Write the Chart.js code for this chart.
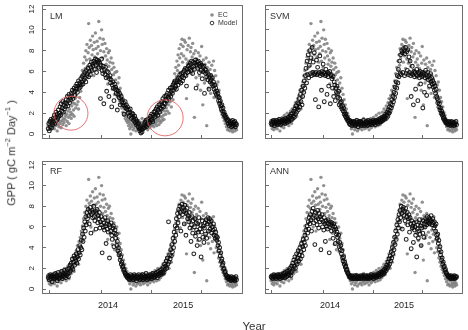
<!DOCTYPE html>
<html>
<head>
<meta charset="utf-8">
<title>GPP: EC vs models</title>
<script src="https://cdn.jsdelivr.net/npm/chart.js"></script>
<style>
  body { margin: 0; width: 468px; height: 330px; overflow: hidden; background: #fff;
         font-family: "Liberation Sans", Arial, sans-serif; color: #333; }
  .panel { position: absolute; }
  #ytitle { position: absolute; left: 10px; top: 153px; transform: translate(-50%, -50%) rotate(-90deg);
            white-space: nowrap; font-size: 11px; }
  #ytitle sup { font-size: 7.5px; }
  #xtitle { position: absolute; left: 254px; top: 320px; transform: translateX(-50%); font-size: 11.5px; }
</style>
</head>
<body>
<div class="panel" style="left:0;top:0;width:250px;height:150px"><canvas id="lm"></canvas></div>
<div class="panel" style="left:250px;top:0;width:218px;height:150px"><canvas id="svm"></canvas></div>
<div class="panel" style="left:0;top:150px;width:250px;height:180px"><canvas id="rf"></canvas></div>
<div class="panel" style="left:250px;top:150px;width:218px;height:180px"><canvas id="ann"></canvas></div>
<div id="ytitle">GPP ( gC m<sup>−2</sup> Day<sup>−1</sup> )</div>
<div id="xtitle">Year</div>

<script>
// one value every 2 days; day 0 = left edge of the plot (early June 2013)
const START_DAY = 22;
const STEP_DAYS = 2;

// observed (eddy covariance) GPP, same in all panels
const ecGpp = [
  0.8, 1.1, 0.5, 1.3, 0.7, 0.4, 1.0, 1.4, 0.6, 0.9,
  1.2, 0.5, 1.0, 0.8, 1.5, 1.1, 0.3, 0.9, 1.3, 0.7,
  1.6, 1.0, 1.2, 0.6, 1.8, 1.3, 0.9, 1.5, 1.1, 2.0,
  1.4, 1.7, 0.8, 1.9, 1.2, 2.2, 1.6, 1.0, 2.4, 1.8,
  2.1, 1.5, 2.7, 1.9, 3.0, 2.3, 1.7, 2.9, 3.4, 2.5,
  3.7, 2.8, 4.2, 3.1, 2.4, 4.6, 3.5, 5.0, 4.1, 5.6,
  4.7, 6.1, 5.3, 6.8, 5.8, 7.4, 6.3, 8.0, 7.1, 8.6,
  6.5, 7.8, 10.6, 8.3, 7.2, 9.0, 6.0, 8.5, 7.6, 9.4,
  8.1, 5.6, 8.8, 7.4, 9.7, 8.2, 6.9, 8.9, 7.7, 8.4,
  10.8, 7.0, 9.2, 8.0, 6.4, 10.0, 8.6, 7.3, 9.1, 7.9,
  5.9, 8.7, 7.5, 6.7, 8.2, 7.1, 4.8, 7.8, 6.5, 8.0,
  6.9, 5.4, 7.3, 6.2, 4.3, 6.8, 5.7, 6.4, 3.8, 5.9,
  5.2, 4.5, 6.0, 3.6, 4.9, 4.1, 5.4, 3.2, 4.4, 2.9,
  3.8, 2.5, 3.3, 2.1, 2.8, 1.8, 2.4, 1.5, 2.0, 1.3,
  1.7, 1.1, 1.4, 0.8, 1.2, 0.5, 1.0, 0.0, 0.7, 1.3,
  0.9, 0.4, 1.1, 0.6, 1.4, 0.8, 0.3, 1.0, 1.2, 0.5,
  0.9, 1.3, 0.6, 1.0, 0.4, 1.1, 0.7, 1.5, 0.8, 0.5,
  1.2, 0.9, 0.6, 1.4, 1.0, 0.7, 1.3, 0.4, 1.1, 0.8,
  1.5, 0.6, 1.0, 1.2, 0.8, 1.6, 0.9, 1.3, 0.7, 1.1,
  1.8, 1.0, 1.4, 0.8, 1.2, 2.0, 1.5, 0.9, 1.3, 1.7,
  1.1, 2.1, 1.6, 1.3, 2.4, 1.8, 1.4, 2.2, 2.7, 1.9,
  2.5, 3.0, 2.2, 3.4, 2.8, 2.0, 3.7, 3.1, 4.2, 2.6,
  3.9, 4.6, 3.3, 5.1, 4.4, 5.8, 4.9, 6.4, 5.5, 7.0,
  6.1, 7.6, 6.6, 8.2, 7.3, 5.9, 8.6, 7.7, 9.1, 6.9,
  8.4, 7.5, 9.0, 6.3, 8.8, 7.2, 3.4, 8.1, 6.8, 8.5,
  7.0, 9.2, 6.5, 7.9, 8.3, 5.8, 7.4, 8.7, 6.1, 7.7,
  1.6, 6.9, 8.0, 5.4, 7.2, 6.6, 4.7, 7.8, 6.3, 5.6,
  7.5, 4.2, 6.8, 8.4, 5.9, 2.8, 7.1, 6.0, 4.9, 6.7,
  5.2, 7.3, 0.8, 6.4, 5.5, 4.4, 6.9, 5.0, 6.2, 3.9,
  5.7, 6.6, 4.6, 5.3, 7.0, 3.5, 6.1, 4.8, 5.6, 4.0,
  4.7, 3.6, 5.0, 3.0, 4.2, 2.6, 3.5, 2.2, 3.1, 1.9,
  2.6, 1.6, 2.1, 1.3, 1.8, 1.0, 1.4, 0.7, 1.1, 0.4,
  0.9, 0.5, 1.2, 0.3, 0.8, 1.0, 0.4, 0.6, 0.2, 0.9,
  0.5, 0.7, 0.3, 1.0, 0.6, 0.4
];

const lmGpp = [
  0.5, 1.0, 0.3, 1.2, 0.7, 1.4, 0.6, 1.1, 0.9, 1.5,
  1.2, 1.8, 1.0, 1.6, 2.1, 1.3, 1.9, 1.5, 2.3, 1.7,
  2.0, 2.6, 1.8, 2.9, 2.2, 2.5, 3.1, 2.1, 2.8, 2.4,
  3.0, 2.6, 3.3, 2.9, 3.6, 2.7, 3.2, 3.8, 3.0, 3.5,
  3.3, 3.9, 3.6, 4.2, 3.4, 4.0, 4.4, 3.7, 4.1, 4.6,
  4.3, 4.8, 4.0, 4.6, 5.1, 4.4, 4.9, 4.5, 5.3, 4.7,
  5.0, 5.5, 4.8, 5.7, 5.2, 5.9, 5.4, 5.0, 6.1, 5.6,
  5.8, 6.3, 5.5, 6.0, 6.6, 5.7, 6.4, 6.9, 6.1, 6.7,
  6.5, 7.0, 6.2, 6.8, 7.2, 6.6, 5.9, 7.1, 6.9, 6.4,
  7.0, 6.3, 6.8, 3.4, 6.6, 7.2, 6.1, 5.8, 6.5, 2.9,
  6.2, 5.7, 6.4, 5.4, 4.1, 6.0, 5.5, 5.9, 3.6, 5.3,
  5.6, 4.9, 5.2, 2.6, 4.7, 5.0, 4.4, 3.2, 4.8, 4.3,
  4.5, 3.9, 4.2, 2.3, 3.8, 4.1, 3.5, 3.9, 2.8, 3.4,
  3.6, 3.1, 3.3, 2.8, 3.0, 1.9, 2.7, 3.1, 2.5, 2.8,
  2.4, 2.6, 2.0, 2.3, 1.7, 2.1, 2.4, 1.8, 1.5, 2.0,
  1.6, 1.9, 1.3, 1.5, 1.7, 1.1, 1.4, 0.9, 1.2, 1.0,
  0.7, 1.0, 0.5, 0.3, 0.6, 0.1, 0.4, 0.2, 0.7, 0.5,
  0.9, 0.6, 1.1, 0.8, 1.3, 0.7, 1.0, 1.4, 0.9, 1.2,
  1.5, 1.1, 1.7, 1.3, 1.9, 1.4, 1.2, 1.8, 2.1, 1.6,
  2.2, 1.7, 2.4, 2.0, 2.6, 1.8, 2.3, 2.8, 2.1, 2.5,
  2.9, 2.4, 3.1, 2.7, 3.4, 2.6, 3.0, 3.6, 2.9, 3.3,
  3.7, 3.2, 3.9, 3.5, 4.2, 3.4, 3.8, 4.4, 3.6, 4.1,
  4.5, 3.9, 4.7, 4.2, 4.9, 4.4, 5.1, 4.6, 4.3, 5.0,
  5.2, 4.7, 5.4, 5.0, 5.7, 5.3, 4.9, 5.8, 5.5, 5.1,
  5.9, 5.4, 6.1, 5.7, 6.3, 5.6, 4.6, 6.2, 5.9, 6.5,
  6.0, 6.6, 6.3, 6.8, 6.1, 7.0, 6.4, 5.8, 6.9, 6.5,
  6.2, 6.8, 7.1, 4.4, 6.6, 6.9, 6.3, 7.0, 6.7, 5.9,
  6.5, 6.8, 6.1, 6.6, 5.3, 6.4, 6.0, 6.5, 3.9, 6.2,
  5.8, 6.1, 5.5, 5.9, 5.2, 5.7, 4.3, 5.4, 5.0, 5.6,
  5.2, 4.8, 5.4, 4.6, 5.0, 4.3, 4.7, 4.0, 4.4, 3.8,
  4.1, 3.6, 3.9, 3.2, 3.5, 2.9, 3.2, 2.7, 2.4, 2.8,
  2.2, 2.5, 1.9, 2.1, 1.7, 1.8, 1.5, 1.6, 1.3, 1.4,
  1.0, 1.3, 0.8, 1.1, 0.9, 1.2, 0.7, 1.0, 1.3, 0.8,
  1.1, 0.9, 1.2, 0.7, 1.0, 0.9
];

const svmGpp = [
  1.0, 1.2, 0.9, 1.1, 1.3, 1.0, 0.8, 1.2, 1.1, 1.0,
  1.3, 0.9, 1.1, 1.2, 1.0, 1.4, 1.1, 0.9, 1.2, 1.3,
  1.0, 1.2, 1.4, 1.1, 1.3, 1.0, 1.5, 1.2, 1.4, 1.1,
  1.3, 1.6, 1.2, 1.5, 1.7, 1.3, 1.9, 1.5, 1.4, 2.0,
  1.7, 2.2, 1.6, 2.4, 1.9, 2.7, 2.1, 2.5, 3.0, 2.3,
  2.9, 3.4, 2.6, 3.8, 3.1, 4.2, 2.8, 3.6, 4.6, 4.0,
  5.1, 4.4, 5.6, 6.3, 4.9, 7.0, 5.7, 7.6, 5.4, 6.6,
  8.0, 5.8, 7.3, 5.6, 8.3, 5.9, 6.9, 5.7, 7.8, 5.8,
  3.3, 5.9, 7.1, 5.7, 6.4, 5.8, 2.6, 5.9, 7.5, 5.6,
  5.8, 4.2, 6.0, 5.7, 6.7, 5.9, 3.1, 5.8, 5.6, 6.2,
  5.7, 3.8, 5.9, 5.5, 4.6, 5.8, 6.0, 2.9, 5.6, 5.7,
  5.3, 4.4, 5.5, 3.6, 5.0, 4.7, 3.2, 4.4, 4.0, 4.6,
  3.9, 3.5, 4.1, 2.8, 3.4, 3.0, 2.6, 3.1, 2.4, 2.7,
  2.2, 2.5, 1.9, 2.1, 1.7, 1.9, 1.5, 1.6, 1.3, 1.4,
  1.2, 1.0, 1.3, 0.9, 1.1, 1.2, 0.8, 1.0, 1.1, 0.9,
  1.2, 1.0, 0.8, 1.1, 0.9, 1.3, 1.0, 0.7, 1.1, 1.2,
  0.9, 1.0, 1.2, 0.8, 1.1, 0.9, 1.0, 1.3, 0.8, 1.0,
  1.1, 0.9, 1.2, 1.0, 0.8, 1.1, 1.3, 0.9, 1.0, 1.2,
  1.0, 1.2, 0.9, 1.1, 1.3, 1.0, 1.2, 1.1, 0.9, 1.3,
  1.1, 1.3, 1.2, 1.0, 1.4, 1.2, 1.1, 1.5, 1.3, 1.2,
  1.4, 1.6, 1.3, 1.5, 1.7, 1.4, 1.6, 1.9, 1.5, 1.8,
  2.1, 1.7, 2.3, 2.0, 2.6, 2.2, 2.9, 2.5, 3.3, 2.8,
  3.6, 3.1, 4.0, 3.5, 4.5, 3.9, 5.0, 4.4, 5.6, 4.9,
  6.2, 5.5, 7.0, 5.8, 7.6, 5.7, 8.0, 7.8, 5.9, 8.2,
  8.0, 5.6, 7.7, 8.3, 5.8, 7.9, 6.1, 8.1, 5.7, 7.4,
  5.9, 7.0, 5.6, 3.6, 5.8, 6.5, 5.7, 2.8, 6.0, 5.5,
  5.9, 4.3, 5.7, 6.2, 5.6, 3.2, 5.9, 5.8, 5.4, 6.0,
  4.8, 5.7, 5.5, 5.9, 2.5, 5.6, 5.8, 4.0, 5.4, 6.1,
  5.7, 3.7, 5.5, 5.9, 5.2, 5.6, 4.6, 5.3, 5.8, 5.0,
  5.4, 4.8, 5.1, 4.5, 4.9, 4.2, 4.6, 3.9, 4.3, 3.6,
  3.4, 3.0, 3.2, 2.6, 2.9, 2.3, 2.5, 2.0, 2.2, 1.8,
  1.9, 1.5, 1.6, 1.3, 1.4, 1.1, 1.2, 1.0, 1.1, 0.9,
  1.0, 1.2, 0.9, 1.1, 0.8, 1.0, 1.2, 0.9, 1.1, 1.0,
  0.8, 1.1, 0.9, 1.0, 1.2, 0.9
];

const rfGpp = [
  1.1, 1.3, 0.9, 1.2, 1.4, 1.0, 1.3, 0.7, 1.2, 1.1,
  1.4, 1.0, 1.2, 1.5, 1.1, 1.3, 0.8, 1.2, 1.6, 1.0,
  1.3, 1.1, 1.4, 1.2, 1.7, 1.0, 1.3, 1.5, 1.2, 1.8,
  1.4, 1.1, 1.6, 1.3, 1.9, 1.5, 1.2, 2.0, 1.6, 2.3,
  1.8, 2.5, 2.1, 2.9, 1.9, 2.6, 3.2, 2.3, 3.0, 2.7,
  3.4, 2.5, 3.1, 3.8, 2.9, 3.5, 4.2, 3.3, 4.0, 4.7,
  3.8, 5.3, 4.6, 5.9, 5.0, 6.5, 5.6, 7.0, 6.2, 7.4,
  6.8, 7.7, 7.1, 6.3, 7.5, 7.9, 5.4, 7.2, 7.6, 6.9,
  7.4, 8.0, 7.0, 6.6, 7.5, 5.8, 7.3, 7.7, 6.4, 7.1,
  6.8, 7.4, 5.9, 6.5, 7.0, 6.2, 3.5, 6.7, 6.0, 6.4,
  5.7, 6.9, 6.1, 4.4, 6.3, 5.8, 6.6, 5.5, 6.2, 3.0,
  6.0, 5.6, 6.4, 5.2, 4.8, 5.9, 6.1, 4.1, 5.4, 5.7,
  4.9, 5.3, 4.2, 4.6, 3.7, 4.0, 3.3, 3.5, 2.8, 3.1,
  2.4, 2.6, 2.1, 2.2, 1.8, 1.9, 1.6, 1.5, 1.3, 1.4,
  1.2, 1.1, 1.3, 1.0, 1.2, 0.9, 1.4, 1.1, 1.0, 1.3,
  1.1, 0.9, 1.2, 1.4, 1.0, 1.2, 1.1, 0.8, 1.3, 1.0,
  1.2, 1.4, 1.1, 0.9, 1.3, 1.0, 1.2, 1.1, 1.4, 0.9,
  1.1, 1.3, 1.0, 1.2, 1.5, 1.1, 0.9, 1.3, 1.2, 1.0,
  1.3, 1.1, 1.4, 1.2, 1.0, 1.3, 1.5, 1.2, 1.1, 1.4,
  1.2, 1.5, 1.3, 1.6, 1.1, 1.4, 1.7, 1.3, 1.5, 1.8,
  1.4, 1.6, 1.9, 1.5, 1.7, 2.1, 1.6, 2.4, 1.9, 2.2,
  2.7, 2.0, 3.0, 2.4, 6.5, 2.6, 3.3, 2.9, 3.8, 3.2,
  4.3, 3.6, 4.9, 4.0, 5.5, 4.6, 6.1, 5.2, 6.8, 5.9,
  7.3, 6.4, 7.7, 7.0, 8.0, 7.4, 5.6, 7.8, 8.2, 7.2,
  7.9, 7.5, 6.3, 8.1, 7.6, 5.2, 7.3, 7.8, 6.8, 7.1,
  6.5, 7.4, 5.9, 6.9, 4.6, 6.2, 7.0, 5.4, 6.6, 3.4,
  6.0, 6.8, 5.1, 6.4, 5.7, 4.2, 6.3, 5.5, 6.9, 4.8,
  5.8, 6.2, 3.1, 5.5, 6.6, 5.0, 6.1, 4.5, 5.9, 6.4,
  5.3, 6.7, 4.9, 6.3, 6.9, 5.6, 6.5, 6.8, 5.8, 6.2,
  6.6, 5.4, 6.0, 5.7, 6.3, 5.2, 5.8, 4.9, 5.5, 5.1,
  4.7, 5.0, 4.2, 4.5, 3.7, 4.0, 3.2, 3.5, 2.7, 2.9,
  2.3, 2.5, 1.9, 2.0, 1.6, 1.7, 1.4, 1.3, 1.1, 1.2,
  1.0, 1.2, 0.9, 1.1, 1.0, 0.8, 1.2, 0.9, 1.1, 1.0,
  0.9, 1.1, 0.8, 1.0, 1.2, 0.9
];

const annGpp = [
  1.2, 1.1, 1.3, 1.0, 1.2, 1.4, 1.1, 1.3, 1.2, 1.0,
  1.3, 1.2, 1.4, 1.1, 1.3, 1.2, 1.0, 1.4, 1.2, 1.3,
  1.1, 1.4, 1.2, 1.5, 1.3, 1.1, 1.6, 1.4, 1.2, 1.7,
  1.5, 1.3, 1.8, 1.4, 2.0, 1.6, 1.3, 2.2, 1.7, 2.5,
  1.9, 2.8, 2.2, 3.1, 2.0, 2.6, 3.4, 2.4, 3.0, 3.7,
  2.7, 3.3, 4.0, 2.9, 3.6, 4.4, 3.2, 4.1, 4.8, 3.8,
  4.5, 5.2, 4.2, 5.7, 4.9, 6.1, 5.4, 6.5, 5.8, 6.9,
  6.3, 7.2, 6.7, 5.6, 7.5, 6.9, 7.8, 6.4, 7.1, 4.3,
  7.4, 6.6, 7.0, 6.2, 7.6, 6.8, 5.9, 7.3, 6.5, 7.0,
  3.8, 6.7, 7.2, 6.0, 6.5, 5.7, 6.9, 6.3, 4.6, 6.6,
  6.1, 6.4, 5.8, 6.7, 6.3, 3.5, 6.0, 6.5, 6.2, 5.6,
  6.4, 6.1, 4.9, 6.3, 5.7, 6.0, 4.4, 5.8, 5.3, 5.5,
  5.0, 4.6, 5.2, 4.1, 4.5, 3.8, 4.2, 3.4, 3.7, 3.0,
  2.7, 3.1, 2.4, 2.6, 2.1, 2.2, 1.8, 1.9, 1.6, 1.5,
  1.4, 1.2, 1.3, 1.1, 1.2, 1.0, 1.3, 1.1, 1.2, 1.0,
  1.1, 1.3, 1.0, 1.2, 1.1, 1.3, 1.0, 1.2, 1.1, 1.0,
  1.2, 1.1, 1.3, 1.0, 1.2, 1.1, 1.3, 1.2, 1.0, 1.1,
  1.3, 1.1, 1.2, 1.0, 1.2, 1.1, 1.3, 1.0, 1.2, 1.1,
  1.2, 1.4, 1.1, 1.3, 1.2, 1.0, 1.3, 1.2, 1.4, 1.1,
  1.3, 1.2, 1.4, 1.3, 1.5, 1.2, 1.4, 1.6, 1.3, 1.5,
  1.7, 1.4, 1.6, 1.8, 1.5, 1.9, 1.7, 2.1, 1.8, 2.3,
  2.0, 2.6, 2.2, 2.9, 2.4, 3.2, 2.7, 3.6, 3.0, 4.0,
  3.4, 4.5, 3.8, 5.0, 4.3, 5.6, 4.8, 6.2, 5.3, 6.7,
  5.9, 7.2, 6.5, 7.6, 6.9, 8.0, 7.3, 5.8, 7.7, 7.9,
  7.1, 7.5, 6.6, 7.8, 4.8, 7.0, 7.4, 6.2, 6.8, 7.2,
  5.5, 6.9, 6.3, 3.9, 6.6, 5.9, 6.1, 4.5, 6.4, 5.7,
  6.0, 5.2, 6.5, 3.1, 5.8, 6.2, 4.9, 5.6, 6.7, 5.3,
  6.1, 4.2, 5.9, 6.4, 5.4, 6.6, 5.0, 6.3, 6.0, 6.8,
  6.5, 6.2, 7.0, 6.6, 6.4, 6.9, 6.3, 6.7, 6.5, 7.1,
  6.6, 6.2, 6.8, 6.4, 5.9, 6.5, 6.1, 5.6, 6.3, 5.2,
  4.9, 5.3, 4.4, 4.7, 3.8, 4.1, 3.3, 3.6, 2.8, 3.0,
  2.4, 2.6, 2.1, 2.2, 1.8, 1.9, 1.6, 1.5, 1.4, 1.3,
  1.2, 1.3, 1.1, 1.2, 1.0, 1.3, 1.1, 1.2, 1.0, 1.2,
  1.1, 1.3, 1.0, 1.2, 1.1, 1.2
];

const xTickDays = [25, 210, 391, 569];
const yearLabels = ['2014', '2015'];
const yearLabelDays = [235, 502];
const yTicks = [0, 2, 4, 6, 8, 10, 12];

Chart.defaults.font.family = '"Liberation Sans", Arial, sans-serif';
Chart.defaults.color = '#333';

const AXIS_GREY = '#6e6e6e';

function toPoints(values) {
  return values.map((v, i) => ({ x: START_DAY + i * STEP_DAYS, y: v }));
}

function zeroPad(s) {
  s.paddingLeft = s.paddingRight = s.paddingTop = s.paddingBottom = 0;
}

// R-style box round the plot region
const framePlugin = {
  id: 'frame',
  afterDraw(chart) {
    const { ctx, chartArea: a } = chart;
    ctx.save();
    ctx.strokeStyle = AXIS_GREY;
    ctx.lineWidth = 1;
    ctx.strokeRect(Math.round(a.left) + 0.5, Math.round(a.top) + 0.5,
                   Math.round(a.width) - 1, Math.round(a.height) - 1);
    ctx.restore();
  }
};

// panel name, legend and the red highlight circles
const decoPlugin = {
  id: 'deco',
  afterDatasetsDraw(chart, args, opts) {
    const { ctx, chartArea: a, scales } = chart;
    ctx.save();
    ctx.fillStyle = '#333';
    ctx.textBaseline = 'middle';
    ctx.font = '9px "Liberation Sans", Arial, sans-serif';
    ctx.fillText(opts.name, a.left + opts.nameDx, a.top + 11);

    (opts.circles || []).forEach(c => {
      ctx.beginPath();
      ctx.strokeStyle = 'rgba(226,92,92,0.85)';
      ctx.lineWidth = 1;
      ctx.arc(scales.x.getPixelForValue(c.day), scales.y.getPixelForValue(c.gpp), c.r, 0, Math.PI * 2);
      ctx.stroke();
    });

    if (opts.legend) {
      const lx = a.right - 31;
      ctx.font = '7px "Liberation Sans", Arial, sans-serif';
      ctx.beginPath();
      ctx.fillStyle = 'rgba(128,128,128,0.9)';
      ctx.arc(lx, a.top + 10, 1.8, 0, Math.PI * 2);
      ctx.fill();
      ctx.beginPath();
      ctx.strokeStyle = '#222';
      ctx.lineWidth = 0.9;
      ctx.arc(lx, a.top + 18, 1.8, 0, Math.PI * 2);
      ctx.stroke();
      ctx.fillStyle = '#333';
      ctx.fillText('EC', lx + 6, a.top + 10);
      ctx.fillText('Model', lx + 6, a.top + 18);
    }
    ctx.restore();
  }
};

function makePanel(id, model, cfg) {
  return new Chart(document.getElementById(id), {
    type: 'scatter',
    data: {
      datasets: [
        { label: 'Model', data: toPoints(model), order: 1,
          pointRadius: 1.9, borderWidth: 1.05, borderColor: 'rgba(10,10,10,0.9)',
          backgroundColor: 'rgba(0,0,0,0)' },
        { label: 'EC', data: toPoints(ecGpp), order: 2,
          pointRadius: 1.7, borderWidth: 0, backgroundColor: 'rgba(125,125,125,0.85)' }
      ]
    },
    options: {
      animation: false,
      responsive: true,
      maintainAspectRatio: false,
      events: [],
      layout: { padding: { left: 0, top: cfg.padTop, right: cfg.padRight, bottom: 0 } },
      plugins: {
        legend: { display: false },
        tooltip: { enabled: false },
        deco: { name: cfg.name, nameDx: cfg.nameDx, legend: !!cfg.legend, circles: cfg.circles }
      },
      scales: {
        x: {
          type: 'linear',
          min: 0,
          max: 715,
          afterBuildTicks: s => {
            s.ticks = xTickDays.concat(yearLabelDays).sort((p, q) => p - q).map(v => ({ value: v }));
          },
          afterFit: s => { s.height = cfg.xHeight; zeroPad(s); },
          border: { display: false },
          grid: {
            drawOnChartArea: false,
            tickLength: -4,
            tickWidth: 1,
            tickColor: c => (c.tick && yearLabelDays.includes(c.tick.value)) ? 'rgba(0,0,0,0)' : AXIS_GREY
          },
          ticks: {
            display: cfg.showX,
            autoSkip: false,
            maxRotation: 0,
            minRotation: 0,
            padding: 10,
            color: '#222',
            font: { size: 9 },
            callback: v => {
              const k = yearLabelDays.indexOf(v);
              return k >= 0 ? yearLabels[k] : '';
            }
          }
        },
        y: {
          min: -0.48,
          max: 12.38,
          afterBuildTicks: s => { s.ticks = yTicks.map(v => ({ value: v })); },
          afterFit: s => { s.width = cfg.yWidth; zeroPad(s); },
          border: { display: false },
          grid: { drawOnChartArea: false, tickLength: -4, tickWidth: 1, tickColor: AXIS_GREY },
          ticks: {
            display: cfg.showY,
            autoSkip: false,
            minRotation: 90,
            maxRotation: 90,
            crossAlign: 'center',
            padding: 9.5,
            color: '#222',
            font: { size: 8 }
          }
        }
      }
    },
    plugins: [framePlugin, decoPlugin]
  });
}

makePanel('lm', lmGpp, {
  name: 'LM', nameDx: 8, legend: true,
  circles: [{ day: 103, gpp: 2.0, r: 17 }, { day: 438, gpp: 1.55, r: 18 }],
  padTop: 5, padRight: 7, xHeight: 11, yWidth: 42, showX: false, showY: true
});
makePanel('svm', svmGpp, {
  name: 'SVM', nameDx: 5,
  padTop: 5, padRight: 2, xHeight: 11, yWidth: 15, showX: false, showY: false
});
makePanel('rf', rfGpp, {
  name: 'RF', nameDx: 8,
  padTop: 11, padRight: 7, xHeight: 36, yWidth: 42, showX: true, showY: true
});
makePanel('ann', annGpp, {
  name: 'ANN', nameDx: 5,
  padTop: 11, padRight: 2, xHeight: 36, yWidth: 15, showX: true, showY: false
});
</script>
</body>
</html>
